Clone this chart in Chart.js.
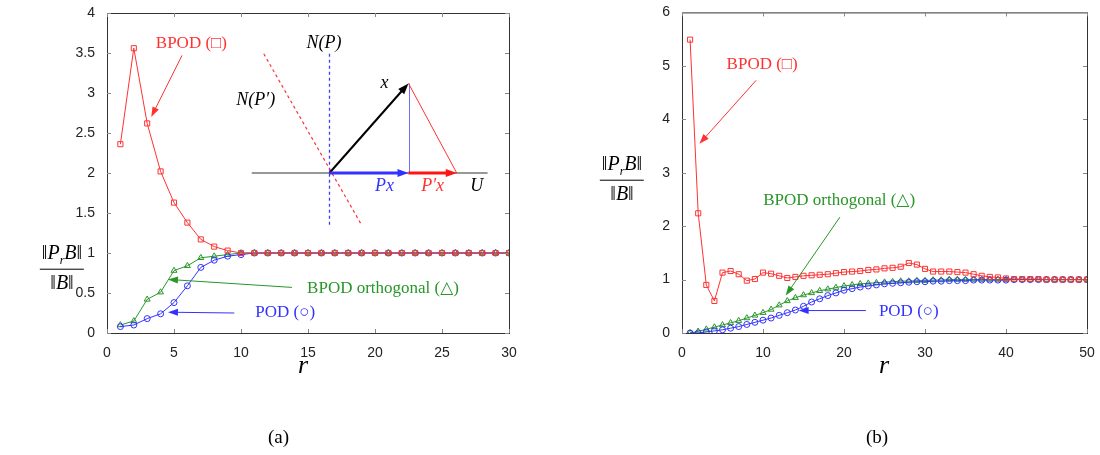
<!DOCTYPE html>
<html>
<head>
<meta charset="utf-8">
<script src="https://cdn.jsdelivr.net/npm/chart.js@4.4.1/dist/chart.umd.min.js"></script>
<style>
  body { margin:0; background:#fff; width:1100px; height:455px; position:relative; overflow:hidden; }
  canvas { position:absolute; top:0; }
  .lbl { position:absolute; font-family:"Liberation Serif","DejaVu Serif",serif; color:#000; }
  .frac { position:absolute; font-family:"Liberation Serif","DejaVu Serif",serif; font-style:italic; font-size:20px; text-align:center; transform:translate(-50%,-50%); line-height:1.05; }
  .frac .num { border-bottom:1px solid #000; padding:0 2px 2px 2px; }
  .frac .den { padding-top:2px; }
  .frac sub { font-size:12px; }
</style>
</head>
<body>
<canvas id="cA" width="530" height="380" style="left:0"></canvas>
<canvas id="cB" width="540" height="380" style="left:560px"></canvas>

<div class="frac" style="left:62px;top:267px"><div class="num">‖P<sub>r</sub>B‖</div><div class="den">‖B‖</div></div>
<div class="frac" style="left:622px;top:178px"><div class="num">‖P<sub>r</sub>B‖</div><div class="den">‖B‖</div></div>
<div class="lbl" style="left:298px;top:350px;font-size:26px;font-style:italic">r</div>
<div class="lbl" style="left:879px;top:350px;font-size:26px;font-style:italic">r</div>
<div class="lbl" style="left:268px;top:426px;font-size:19px">(a)</div>
<div class="lbl" style="left:866px;top:426px;font-size:19px">(b)</div>

<script>
// ---- data (a): 30 modes
const rA = [1,2,3,4,5,6,7,8,9,10,11,12,13,14,15,16,17,18,19,20,21,22,23,24,25,26,27,28,29,30];
const bpodA = [2.36,3.56,2.62,2.02,1.63,1.38,1.17,1.08,1.03,1.0,1.0,1.0,1.0,1.0,1.0,1.0,1.0,1.0,1.0,1.0,1.0,1.0,1.0,1.0,1.0,1.0,1.0,1.0,1.0,1.0];
const orthA = [0.10,0.15,0.42,0.51,0.78,0.84,0.94,0.96,0.98,1.0,1.0,1.0,1.0,1.0,1.0,1.0,1.0,1.0,1.0,1.0,1.0,1.0,1.0,1.0,1.0,1.0,1.0,1.0,1.0,1.0];
const podA = [0.08,0.10,0.18,0.24,0.38,0.59,0.82,0.91,0.96,0.98,1.0,1.0,1.0,1.0,1.0,1.0,1.0,1.0,1.0,1.0,1.0,1.0,1.0,1.0,1.0,1.0,1.0,1.0,1.0,1.0];

// ---- data (b): 50 modes
const rB = [1,2,3,4,5,6,7,8,9,10,11,12,13,14,15,16,17,18,19,20,21,22,23,24,25,26,27,28,29,30,31,32,33,34,35,36,37,38,39,40,41,42,43,44,45,46,47,48,49,50];
const bpodB = [5.49,2.24,0.90,0.60,1.13,1.16,1.10,0.98,1.01,1.13,1.11,1.07,1.03,1.05,1.07,1.08,1.09,1.10,1.12,1.14,1.15,1.16,1.18,1.19,1.21,1.22,1.24,1.31,1.28,1.20,1.15,1.15,1.15,1.14,1.13,1.10,1.07,1.05,1.04,1.02,1.01,1.01,1.01,1.01,1.0,1.0,1.0,1.0,1.0,1.0];
const orthB = [0.0,0.03,0.07,0.11,0.15,0.19,0.23,0.28,0.33,0.38,0.44,0.52,0.60,0.66,0.71,0.75,0.79,0.82,0.85,0.88,0.90,0.92,0.93,0.94,0.95,0.96,0.97,0.97,0.98,0.98,0.99,0.99,1.0,1.0,1.0,1.0,1.0,1.0,1.0,1.0,1.0,1.0,1.0,1.0,1.0,1.0,1.0,1.0,1.0,1.0];
const podB = [0.0,0.0,0.02,0.04,0.06,0.09,0.12,0.16,0.20,0.24,0.28,0.33,0.38,0.43,0.50,0.58,0.64,0.70,0.75,0.80,0.83,0.86,0.88,0.90,0.92,0.93,0.94,0.95,0.96,0.96,0.97,0.97,0.98,0.98,0.98,0.99,0.99,0.99,0.99,0.99,1.0,1.0,1.0,1.0,1.0,1.0,1.0,1.0,1.0,1.0];

const RED = 'rgb(255,50,50)';
const GREEN = 'rgb(40,150,40)';
const BLUE = 'rgb(50,50,255)';
const SERIF = '"Liberation Serif","DejaVu Serif",serif';

function pts(xs, ys) { return xs.map((x, i) => ({x: x, y: ys[i]})); }

function ds(data, color, style, radius) {
    return {
        data: data,
        borderColor: color,
        borderWidth: 1,
        pointStyle: style,
        pointRadius: radius,
        pointBorderColor: color,
        pointBackgroundColor: 'rgba(0,0,0,0)',
        pointBorderWidth: 1,
        tension: 0
    };
}

function arrow(ctx, x1, y1, x2, y2, color, w, hl, hw) {
    const a = Math.atan2(y2 - y1, x2 - x1);
    ctx.strokeStyle = color; ctx.fillStyle = color; ctx.lineWidth = w;
    ctx.beginPath(); ctx.moveTo(x1, y1);
    ctx.lineTo(x2 - Math.cos(a) * hl * 0.8, y2 - Math.sin(a) * hl * 0.8); ctx.stroke();
    ctx.beginPath();
    ctx.moveTo(x2, y2);
    ctx.lineTo(x2 - hl * Math.cos(a) + hw * Math.sin(a), y2 - hl * Math.sin(a) - hw * Math.cos(a));
    ctx.lineTo(x2 - hl * Math.cos(a) - hw * Math.sin(a), y2 - hl * Math.sin(a) + hw * Math.cos(a));
    ctx.closePath(); ctx.fill();
}

// box + inward ticks + annotations
const decoPlugin = {
    id: 'deco',
    afterDraw(chart, args, opts) {
        const ctx = chart.ctx, a = chart.chartArea;
        const sx = chart.scales.x, sy = chart.scales.y;
        const P = (x, y) => [sx.getPixelForValue(x), sy.getPixelForValue(y)];
        ctx.save();
        ctx.strokeStyle = '#333'; ctx.lineWidth = 1;
        ctx.strokeRect(a.left + 0.5, a.top + 0.5, a.right - a.left, a.bottom - a.top);
        ctx.strokeStyle = '#888';
        ctx.beginPath();
        sx.ticks.forEach(t => {
            const p = Math.round(sx.getPixelForValue(t.value)) + 0.5;
            ctx.moveTo(p, a.bottom); ctx.lineTo(p, a.bottom - 4);
            ctx.moveTo(p, a.top); ctx.lineTo(p, a.top + 4);
        });
        sy.ticks.forEach(t => {
            const p = Math.round(sy.getPixelForValue(t.value)) + 0.5;
            ctx.moveTo(a.left, p); ctx.lineTo(a.left + 4, p);
            ctx.moveTo(a.right, p); ctx.lineTo(a.right - 4, p);
        });
        ctx.stroke();

        (opts.lines || []).forEach(l => {
            const p1 = P(l.from[0], l.from[1]), p2 = P(l.to[0], l.to[1]);
            ctx.strokeStyle = l.color; ctx.lineWidth = l.width || 1;
            ctx.setLineDash(l.dash || []);
            ctx.beginPath();
            if (p1[0] === p2[0]) {
                const xx = Math.round(p1[0]) + 0.5;
                ctx.moveTo(xx, p1[1]); ctx.lineTo(xx, p2[1]);
            } else {
                ctx.moveTo(p1[0], p1[1]); ctx.lineTo(p2[0], p2[1]);
            }
            ctx.stroke();
        });
        ctx.setLineDash([]);
        (opts.arrows || []).forEach(l => {
            const p1 = P(l.from[0], l.from[1]), p2 = P(l.to[0], l.to[1]);
            arrow(ctx, p1[0], p1[1], p2[0], p2[1], l.color, l.width || 1, l.head || 10, l.hw || 3.5);
        });
        (opts.texts || []).forEach(t => {
            const p = P(t.at[0], t.at[1]);
            ctx.fillStyle = t.color || '#000';
            ctx.font = (t.italic ? 'italic ' : '') + (t.size || 17) + 'px ' + SERIF;
            ctx.textAlign = t.align || 'center'; ctx.textBaseline = 'middle';
            ctx.fillText(t.text, p[0], p[1]);
        });
        ctx.restore();
    }
};

function makeChart(id, xs, b, o, p, xmax, xstep, ymax, ystep, yw, pad, notes) {
    return new Chart(document.getElementById(id), {
        type: 'line',
        data: {
            datasets: [
                ds(pts(xs, b), RED, 'rect', 3.6),
                ds(pts(xs, p), BLUE, 'circle', 3),
                ds(pts(xs, o), GREEN, 'triangle', 3.4)
            ]
        },
        options: {
            responsive: false,
            animation: false,
            devicePixelRatio: 1,
            layout: { padding: pad },
            scales: {
                x: {
                    type: 'linear', min: 0, max: xmax,
                    grid: { display: false }, border: { display: false },
                    ticks: { stepSize: xstep, padding: 4, color: '#222', font: { family: 'Liberation Sans', size: 14 }, maxRotation: 0 },
                    afterFit: s => { s.height = 47; }
                },
                y: {
                    min: 0, max: ymax,
                    grid: { display: false }, border: { display: false },
                    ticks: { stepSize: ystep, padding: 4, color: '#222', font: { family: 'Liberation Sans', size: 14 },
                             callback: v => String(v) },
                    afterFit: s => { s.width = yw; }
                }
            },
            plugins: {
                legend: { display: false },
                tooltip: { enabled: false },
                deco: notes
            }
        },
        plugins: [decoPlugin]
    });
}

const decoA = {
    lines: [
        { from: [10.8, 2.0], to: [28.4, 2.0], color: '#333' },
        { from: [16.6, 3.49], to: [16.6, 1.35], color: 'rgb(60,60,255)', width: 1.3, dash: [3, 3] },
        { from: [11.7, 3.49], to: [19.0, 1.35], color: RED, width: 1.2, dash: [3, 3] },
        { from: [22.5, 3.12], to: [22.5, 2.0], color: 'rgb(110,110,255)' },
        { from: [22.5, 3.12], to: [26.1, 2.0], color: RED }
    ],
    arrows: [
        { from: [16.6, 2.0], to: [22.5, 3.12], color: '#000', width: 2, head: 11, hw: 4 },
        { from: [16.6, 2.0], to: [22.5, 2.0], color: BLUE, width: 3, head: 11, hw: 4 },
        { from: [22.5, 2.0], to: [26.1, 2.0], color: 'rgb(255,20,20)', width: 3, head: 11, hw: 4 },
        { from: [5.6, 3.47], to: [3.3, 2.70], color: RED, head: 10, hw: 3.5 },
        { from: [13.8, 0.57], to: [4.55, 0.67], color: GREEN, head: 10, hw: 3.5 },
        { from: [9.5, 0.25], to: [4.55, 0.26], color: BLUE, head: 10, hw: 3.5 }
    ],
    texts: [
        { text: 'N(P)', at: [16.2, 3.62], italic: true, size: 18 },
        { text: "N(P′)", at: [11.1, 2.91], italic: true, size: 18 },
        { text: 'x', at: [20.7, 3.12], italic: true, size: 18 },
        { text: 'Px', at: [20.7, 1.84], italic: true, size: 18, color: BLUE },
        { text: "P′x", at: [24.3, 1.83], italic: true, size: 18, color: RED },
        { text: 'U', at: [27.6, 1.84], italic: true, size: 18 },
        { text: 'BPOD (□)', at: [6.3, 3.62], color: RED },
        { text: 'BPOD orthogonal (△)', at: [20.6, 0.56], color: GREEN },
        { text: 'POD (○)', at: [13.3, 0.26], color: BLUE }
    ]
};

const decoB = {
    arrows: [
        { from: [9.16, 4.73], to: [2.15, 3.54], color: RED, head: 10, hw: 3.5 },
        { from: [19.5, 2.17], to: [12.8, 0.70], color: GREEN, head: 10, hw: 3.5 },
        { from: [22.7, 0.42], to: [14.4, 0.42], color: BLUE, head: 10, hw: 3.5 }
    ],
    texts: [
        { text: 'BPOD (□)', at: [9.9, 5.02], color: RED },
        { text: 'BPOD orthogonal (△)', at: [19.4, 2.48], color: GREEN },
        { text: 'POD (○)', at: [28.0, 0.40], color: BLUE }
    ]
};

makeChart('cA', rA, bpodA, orthA, podA, 30, 5, 4, 0.5, 107, { left: 0, top: 13, right: 21, bottom: 0 }, decoA);
makeChart('cB', rB, bpodB, orthB, podB, 50, 10, 6, 1, 122, { left: 0, top: 7, right: 13, bottom: 0 }, decoB);
</script>
</body>
</html>
